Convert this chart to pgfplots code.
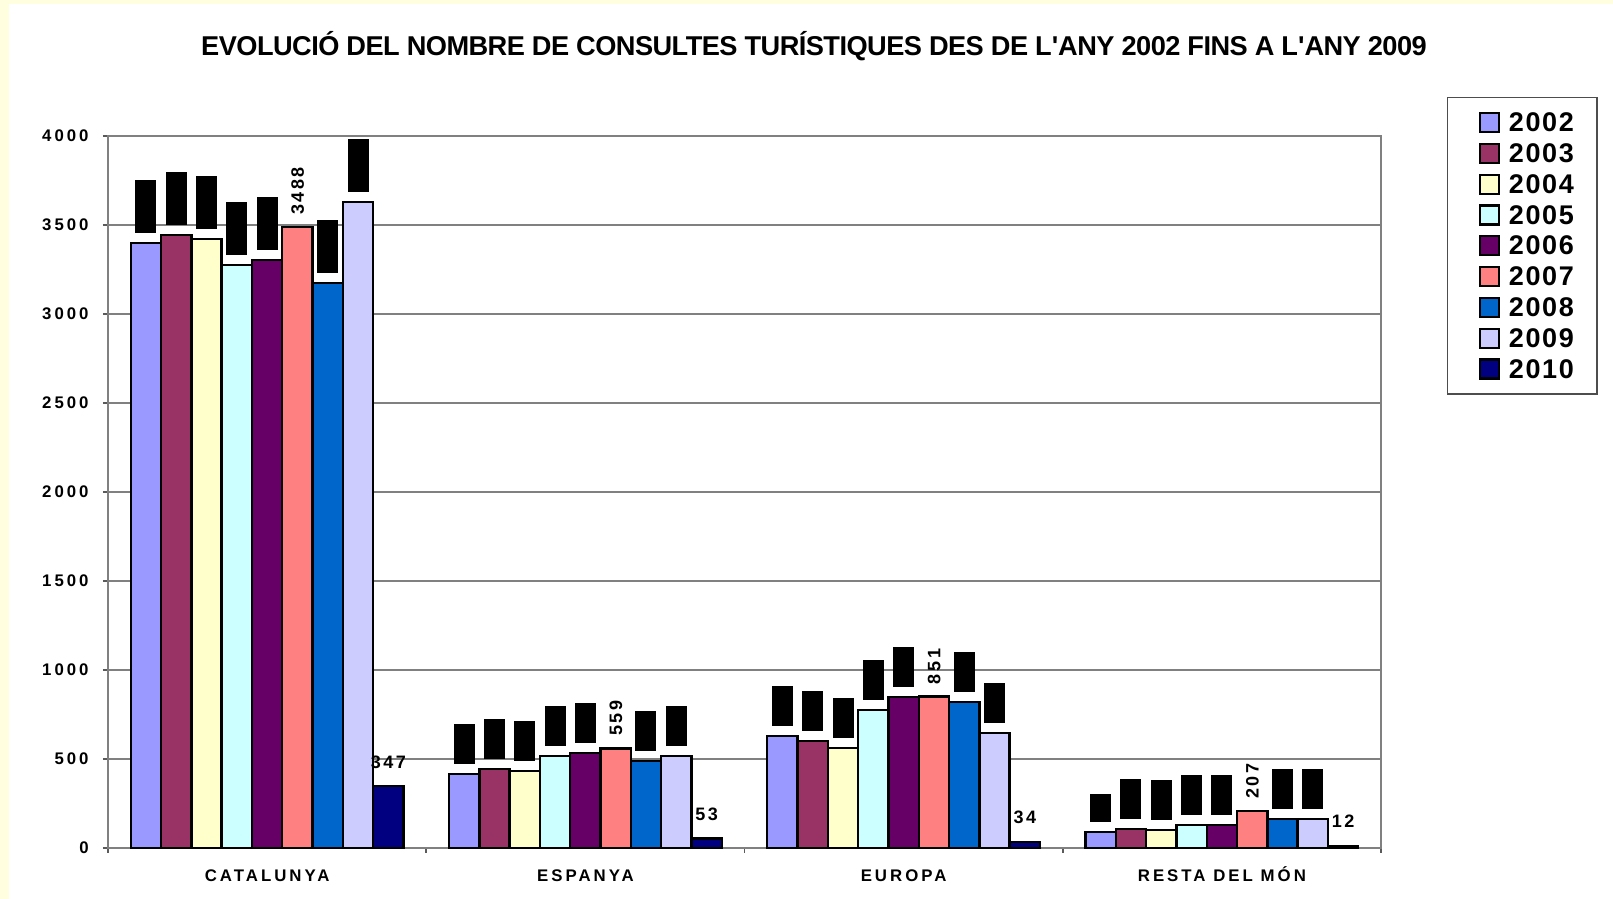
\documentclass[border=0pt]{standalone}
\usepackage{fontspec}
\setmainfont{Liberation Sans}
\newfontfamily\spaced[LetterSpace=18]{Liberation Sans}
\newfontfamily\lblfont[LetterSpace=14]{Liberation Sans}
\newfontfamily\legfont[LetterSpace=6]{Liberation Sans}
\newfontfamily\titlefont[LetterSpace=-2]{Liberation Sans}
\usepackage{pgfplots}
\usepackage{pgfplotstable}
\pgfplotsset{compat=1.18}
\definecolor{c02}{HTML}{9999FF}
\definecolor{c03}{HTML}{993366}
\definecolor{c04}{HTML}{FFFFCC}
\definecolor{c05}{HTML}{CCFFFF}
\definecolor{c06}{HTML}{660066}
\definecolor{c07}{HTML}{FF8080}
\definecolor{c08}{HTML}{0066CC}
\definecolor{c09}{HTML}{CCCCFF}
\definecolor{c10}{HTML}{000080}
\definecolor{cream}{HTML}{FFFFE0}
\definecolor{axgray}{HTML}{808080}

\pgfplotstableread{
x y2002 y2003 y2004 y2005 y2006 y2007 y2008 y2009 y2010
0 3399 3444 3421 3275 3303 3488 3174 3629 347
1 416 444 433 517 534 559 489 517 53
2 629 601 562 775 848 851 820 646 34
3 90 107 101 129 129 207 163 163 12
}\data

\pgfplotsset{
  blackbox/.style={nodes near coords,
    every node near coord/.append style={rotate=90, anchor=west, fill=black, text=black,
      inner xsep=1.25pt, inner ysep=2pt, outer xsep=5pt, outer ysep=0pt,
      font=\lblfont\bfseries\fontsize{9}{10}\selectfont, text height=6.5pt, text depth=0pt}},
  readable/.style={nodes near coords,
    every node near coord/.append style={rotate=90, anchor=west, text=black,
      inner xsep=1.25pt, inner ysep=2pt, outer xsep=5pt, outer ysep=0pt,
      font=\lblfont\bfseries\fontsize{9}{10}\selectfont, text height=6.5pt, text depth=0pt}},
  horiz/.style={nodes near coords,
    every node near coord/.append style={anchor=south, text=black,
      inner sep=0pt, yshift=8.5pt,
      font=\lblfont\bfseries\fontsize{9}{10}\selectfont, text height=6.5pt, text depth=0pt}},
}

\begin{document}
\begin{tikzpicture}
\fill[white] (0,0) rectangle (806.5pt,449.5pt);
\fill[cream] (0,0) rectangle (4.5pt,449.5pt);
\fill[cream] (0,447.5pt) rectangle (806.5pt,449.5pt);
\node[font=\titlefont\bfseries\fontsize{13.6}{15}\selectfont, text height=9.7pt, text depth=0pt, inner sep=0pt]
  at (407pt,426.8pt) {EVOLUCIÓ DEL NOMBRE DE CONSULTES TURÍSTIQUES DES DE L\textquotesingle ANY 2002 FINS A L\textquotesingle ANY 2009};
\begin{axis}[
  at={(54pt,25.5pt)}, anchor=south west,
  scale only axis, width=636.5pt, height=356pt,
  ybar=0pt, bar width=15.15pt,
  xmin=-0.5, xmax=3.5, ymin=0, ymax=4000,
  ytick={0,500,...,4000},
  xtick={-0.5,0.5,1.5,2.5,3.5}, xticklabels={},
  extra x ticks={0,1,2,3},
  extra x tick labels={CATALUNYA,ESPANYA,EUROPA,RESTA DEL MÓN},
  extra x tick style={major tick length=0pt, grid=none},
  tick align=outside, tick pos=left, major tick length=2.5pt,
  tick style={draw=axgray!70!black, line width=0.8pt},
  ymajorgrids, major grid style={draw=axgray, line width=0.8pt},
  axis line style={draw=axgray, line width=0.9pt},
  /pgf/number format/assume math mode=true,
  /pgf/number format/1000 sep={},
  tick label style={font=\spaced\bfseries\fontsize{8.4}{9}\selectfont},
  yticklabel style={inner sep=0pt, xshift=-7pt},
  xticklabel style={inner sep=0pt, anchor=north, yshift=-10.5pt, text height=6pt, text depth=0pt},
  clip=false,
  every axis plot/.append style={draw=black, line width=1.2pt,
    legend image code/.code={\path (-8.5pt,0pt); \draw[##1, line width=1.1pt] (0pt,-4.75pt) rectangle (9.5pt,4.75pt);}},
  legend style={at={(1.0518,1.0548)}, anchor=north west, draw=axgray!60!black, line width=0.7pt,
    inner xsep=7pt, inner ysep=4.8pt,
    font=\legfont\bfseries\fontsize{13.5}{15}\selectfont,
    nodes={inner xsep=4.5pt, inner ysep=3.2pt, text height=9pt, text depth=0pt, anchor=west}},
  legend cell align=left,
]
\addplot[fill=c02, blackbox] table[x=x,y=y2002]{\data};
\addplot[fill=c03, blackbox] table[x=x,y=y2003]{\data};
\addplot[fill=c04, blackbox] table[x=x,y=y2004]{\data};
\addplot[fill=c05, blackbox] table[x=x,y=y2005]{\data};
\addplot[fill=c06, blackbox] table[x=x,y=y2006]{\data};
\addplot[fill=c07, readable] table[x=x,y=y2007]{\data};
\addplot[fill=c08, blackbox] table[x=x,y=y2008]{\data};
\addplot[fill=c09, blackbox] table[x=x,y=y2009]{\data};
\addplot[fill=c10, horiz] table[x=x,y=y2010]{\data};
\legend{2002,2003,2004,2005,2006,2007,2008,2009,2010}
\end{axis}
\end{tikzpicture}
\end{document}
